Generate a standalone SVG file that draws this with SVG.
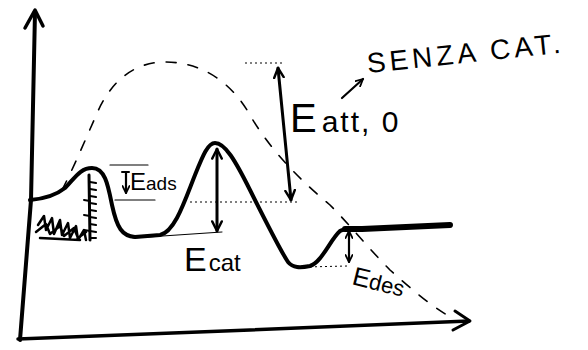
<svg xmlns="http://www.w3.org/2000/svg" width="588" height="350" viewBox="0 0 588 350">
<style>
.ink{fill:none;stroke:#000;stroke-linecap:round;stroke-linejoin:round}
.dot{fill:none;stroke:#000;stroke-width:1;stroke-dasharray:2 3}
.t{font-family:"Liberation Sans","DejaVu Sans",sans-serif;fill:#000}
</style>
<defs>
<marker id="ah" viewBox="0 0 10 10" refX="9" refY="5" markerWidth="4" markerHeight="4" orient="auto-start-reverse" markerUnits="strokeWidth">
<path d="M1,1 L9,5 L1,9" fill="none" stroke="#000" stroke-width="2" stroke-linecap="round" stroke-linejoin="round"/>
</marker>
</defs>
<rect width="588" height="350" fill="#fff"/>
<g id="axes">
<path class="ink" stroke-width="4" d="M35,12 L31,200 L20,340"/>
<polyline class="ink" stroke-width="3.5" points="25,28 35,10 43,26"/>
<path class="ink" stroke-width="3.5" d="M18,339 L250,330 L469,321"/>
<polyline class="ink" stroke-width="3" points="455,311 470,321 453,330"/>
</g>
<g id="uncatalysed-curve">
<path class="ink" stroke-width="1.6" stroke-dasharray="10 12" d="M62,190 C75,165 85,140 95,118 C110,80 135,62 165,62 C200,62 230,80 250,115 C270,150 300,180 330,205 C350,225 370,250 390,270 C410,288 430,305 447,315"/>
</g>
<g id="catalysed-curve">
<path class="ink" stroke-width="4" d="M30,200 C42,199 55,196 65,188 C75,178 80,168 92,168 C105,168 108,185 112,205 C117,228 122,236 135,237 L160,235 C175,232 185,200 195,175 C203,155 208,143 215,143 C225,143 235,160 250,190 C265,220 280,250 288,262 C293,268 300,268 310,266 C322,262 330,240 340,231 C345,228 350,229 360,229 L450,225"/>
<path class="ink" stroke-width="6" d="M345,229 L362,229 L450,225"/>
</g>
<g id="catalyst">
<path class="ink" stroke-width="3" d="M89,175 L90,240"/>
<path class="ink" stroke-width="2" d="M90,182 l6,1 M90,189 l6,1 M90,196 l6,1 M90,203 l6,1 M90,210 l6,1 M90,217 l6,1 M90,224 l6,1 M90,231 l6,1 M90,238 l6,0 M84,200 l6,1 M84,215 l6,1 M84,230 l6,1"/>
<path class="ink" stroke-width="2.5" d="M38,225 l6,-9 l2,14 l6,-12 l2,16 l6,-14 l2,15 l6,-12 l2,15 l6,-12 l2,14 l6,-10 l2,10 M36,232 l10,-8 l4,10 l10,-8 l4,10 l10,-8 l4,10 l8,-6 M40,238 l40,2"/>
</g>
<g id="guides">
<line class="dot" x1="245" y1="63" x2="285" y2="63"/>
<line class="dot" x1="190" y1="202" x2="300" y2="202"/>
<line class="ink" stroke-width="1.2" x1="115" y1="200" x2="155" y2="200"/>
<line class="ink" stroke-width="1.2" x1="110" y1="165" x2="148" y2="165"/>
<line class="ink" stroke-width="1" x1="133" y1="238" x2="222" y2="232"/>
<line class="dot" x1="305" y1="267" x2="348" y2="266"/>
</g>
<g id="connectors">
<line class="ink" stroke-width="3" x1="278" y1="68" x2="291" y2="200" marker-start="url(#ah)" marker-end="url(#ah)"/>
<line class="ink" stroke-width="3" x1="217" y1="149" x2="217" y2="231" marker-start="url(#ah)" marker-end="url(#ah)"/>
<line class="ink" stroke-width="2.2" x1="126" y1="172" x2="126" y2="193" marker-end="url(#ah)"/>
<line class="ink" stroke-width="2" x1="122" y1="172" x2="129" y2="172"/>
<line class="ink" stroke-width="2.2" x1="349" y1="231" x2="349" y2="262" marker-start="url(#ah)" marker-end="url(#ah)"/>
<line class="ink" stroke-width="2.2" x1="342" y1="98" x2="363" y2="79" marker-end="url(#ah)"/>
</g>
<g id="labels">
<text class="t" transform="translate(368,73) rotate(-6)" font-size="28" letter-spacing="4">SENZA CAT.</text>
<text class="t" x="290" y="132"><tspan font-size="40">E</tspan><tspan font-size="30" dx="5" letter-spacing="2">att, 0</tspan></text>
<text class="t" x="184" y="271"><tspan font-size="34">E</tspan><tspan font-size="24" dx="2">cat</tspan></text>
<text class="t" x="130" y="190"><tspan font-size="24">E</tspan><tspan font-size="19">ads</tspan></text>
<text class="t" transform="translate(351,284) rotate(14)"><tspan font-size="26">E</tspan><tspan font-size="22">des</tspan></text>
</g>
</svg>
